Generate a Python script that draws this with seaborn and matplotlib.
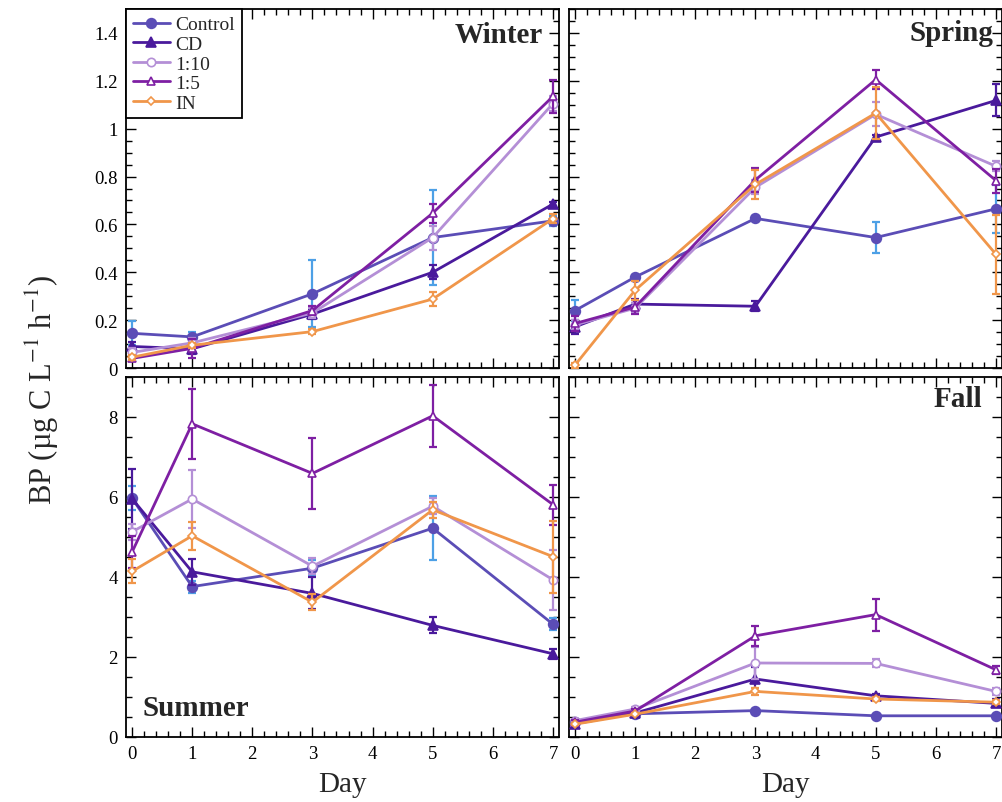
import pandas as pd
import seaborn as sns
import matplotlib
matplotlib.use('Agg')
import matplotlib.pyplot as plt
from matplotlib.ticker import MultipleLocator, FuncFormatter

# ==================== data ====================
days = [0, 1, 3, 5, 7]
treatments = ['Control', 'CD', '1:10', '1:5', 'IN']
seasons = ['Winter', 'Spring', 'Summer', 'Fall']

# rows follow `treatments`, columns follow `days`
winter_bp = [
    [0.145, 0.130, 0.310, 0.545, 0.615],
    [0.090, 0.080, 0.225, 0.400, 0.685],
    [0.065, 0.105, 0.230, 0.545, 1.105],
    [0.040, 0.082, 0.240, 0.647, 1.135],
    [0.045, 0.095, 0.152, 0.288, 0.624],
]
winter_err = [
    [0.05, 0.02, 0.14, 0.20, 0.02],
    [0.02, 0.02, 0.02, 0.03, 0.01],
    [0.02, 0.02, 0.02, 0.05, 0.03],
    [0.01, 0.04, 0.02, 0.04, 0.07],
    [0.01, 0.01, 0.01, 0.03, 0.02],
]
spring_bp = [
    [0.240, 0.380, 0.625, 0.545, 0.665],
    [0.172, 0.267, 0.258, 0.965, 1.118],
    [0.180, 0.250, 0.755, 1.060, 0.843],
    [0.186, 0.255, 0.786, 1.205, 0.783],
    [0.012, 0.325, 0.767, 1.065, 0.475],
]
spring_err = [
    [0.045, 0.010, 0.010, 0.065, 0.100],
    [0.030, 0.020, 0.020, 0.010, 0.067],
    [0.020, 0.020, 0.030, 0.050, 0.020],
    [0.030, 0.030, 0.050, 0.040, 0.050],
    [0.010, 0.040, 0.060, 0.110, 0.165],
]
summer_bp = [
    [5.97, 3.76, 4.22, 5.22, 2.82],
    [5.96, 4.13, 3.59, 2.79, 2.08],
    [5.13, 5.95, 4.27, 5.77, 3.93],
    [4.62, 7.83, 6.59, 8.03, 5.81],
    [4.14, 5.03, 3.37, 5.68, 4.51],
]
summer_err = [
    [0.30, 0.15, 0.20, 0.80, 0.15],
    [0.75, 0.32, 0.40, 0.20, 0.12],
    [0.20, 0.72, 0.20, 0.20, 0.75],
    [0.40, 0.88, 0.88, 0.78, 0.50],
    [0.30, 0.35, 0.20, 0.20, 0.90],
]
fall_bp = [
    [0.37, 0.58, 0.66, 0.53, 0.53],
    [0.33, 0.60, 1.45, 1.03, 0.84],
    [0.41, 0.70, 1.85, 1.84, 1.14],
    [0.37, 0.65, 2.53, 3.06, 1.68],
    [0.32, 0.57, 1.14, 0.95, 0.87],
]
fall_err = [
    [0.03, 0.03, 0.03, 0.03, 0.03],
    [0.05, 0.05, 0.30, 0.05, 0.10],
    [0.05, 0.05, 0.40, 0.10, 0.08],
    [0.05, 0.05, 0.25, 0.40, 0.10],
    [0.03, 0.03, 0.08, 0.05, 0.05],
]

season_bp = {'Winter': winter_bp, 'Spring': spring_bp, 'Summer': summer_bp, 'Fall': fall_bp}
season_err = {'Winter': winter_err, 'Spring': spring_err, 'Summer': summer_err, 'Fall': fall_err}

rows = []
for s in seasons:
    for i, t in enumerate(treatments):
        for j, d in enumerate(days):
            rows.append({'season': s, 'treatment': t, 'day': d,
                         'bp': season_bp[s][i][j], 'err': season_err[s][i][j]})
df = pd.DataFrame(rows)

# ==================== style ====================
sns.set_theme(style='ticks')
plt.rcParams['font.family'] = ['Liberation Serif', 'DejaVu Serif']
plt.rcParams['mathtext.fontset'] = 'stix'

colors = ['#5b4db6', '#4a1a9c', '#b48fd6', '#7e1fa3', '#f0964a']
err_colors = ['#4da0e6', '#4a1a9c', '#b48fd6', '#7e1fa3', '#f0964a']
markers = ['o', '^', 'o', '^', 'D']
filled = [True, True, False, False, False]
msizes = [7, 6.5, 6, 6, 4.5]

fig = plt.figure(figsize=(10.03, 8.03), dpi=100)
W, H = 1003, 803
boxes = {
    'Winter': (126, 10, 433, 359),
    'Spring': (569, 10, 433, 359),
    'Summer': (126, 378, 433, 360),
    'Fall': (569, 378, 433, 360),
}
title_pos = {
    'Winter': (0.963, 0.93, 'right'),
    'Spring': (0.979, 0.935, 'right'),
    'Summer': (0.037, 0.083, 'left'),
    'Fall': (0.954, 0.94, 'right'),
}

fmt = FuncFormatter(lambda v, p: f'{v:g}')
handles = []
for s in seasons:
    x0, y0, w, h = boxes[s]
    ax = fig.add_axes([x0 / W, 1 - (y0 + h) / H, w / W, h / H])
    sub_s = df[df['season'] == s]
    for i, t in enumerate(treatments):
        sub = sub_s[sub_s['treatment'] == t]
        ax.errorbar(sub['day'], sub['bp'], yerr=sub['err'], fmt='none',
                    ecolor=err_colors[i], elinewidth=1.6, capsize=3, capthick=1.6, zorder=2 + i)
        sns.lineplot(data=sub, x='day', y='bp', ax=ax, color=colors[i],
                     marker=markers[i], markersize=msizes[i],
                     markerfacecolor=colors[i] if filled[i] else 'white',
                     markeredgecolor=colors[i], markeredgewidth=1.2,
                     linewidth=2, errorbar=None, legend=False, zorder=3 + i)
        if s == 'Winter':
            handles.append(ax.lines[-1])

    ax.set_xlim(-0.1, 7.1)
    ax.xaxis.set_major_locator(MultipleLocator(1))
    ax.xaxis.set_minor_locator(MultipleLocator(0.2))
    if s in ('Winter', 'Spring'):
        ax.set_ylim(0, 1.5)
        ax.yaxis.set_major_locator(MultipleLocator(0.2))
        ax.yaxis.set_minor_locator(MultipleLocator(0.05))
        ax.tick_params(axis='x', labelbottom=False)
        ax.set_xlabel('')
    else:
        ax.set_ylim(0, 9)
        ax.yaxis.set_major_locator(MultipleLocator(2))
        ax.yaxis.set_minor_locator(MultipleLocator(0.5))
        ax.set_xlabel('Day', fontsize=21, labelpad=6)
    ax.yaxis.set_major_formatter(fmt)
    if s in ('Spring', 'Fall'):
        ax.tick_params(axis='y', labelleft=False)
    ax.set_ylabel('')
    ax.tick_params(which='both', direction='in', top=True, right=True, width=1, colors='black')
    ax.tick_params(which='major', length=7, labelsize=13.5, pad=6)
    ax.tick_params(which='minor', length=4)
    for sp in ax.spines.values():
        sp.set_linewidth(1.3)
        sp.set_color('black')

    tx, ty, ha = title_pos[s]
    ax.text(tx, ty, s, transform=ax.transAxes, ha=ha, va='center',
            fontsize=21, fontweight='bold')

    if s == 'Winter':
        leg = ax.legend(handles, treatments, loc='upper left', bbox_to_anchor=(0, 1),
                        borderaxespad=0, frameon=True, fancybox=False, edgecolor='black',
                        framealpha=1, fontsize=14, labelspacing=0.1, handlelength=1.9,
                        handletextpad=0.3, borderpad=0.35)
        leg.get_frame().set_linewidth(1.3)

fig.text(42 / W, 1 - 390 / H, r'BP (µg C L$^{-1}$ h$^{-1}$)', rotation=90,
         ha='center', va='center', fontsize=22)

plt.savefig('out.png', dpi=100)
